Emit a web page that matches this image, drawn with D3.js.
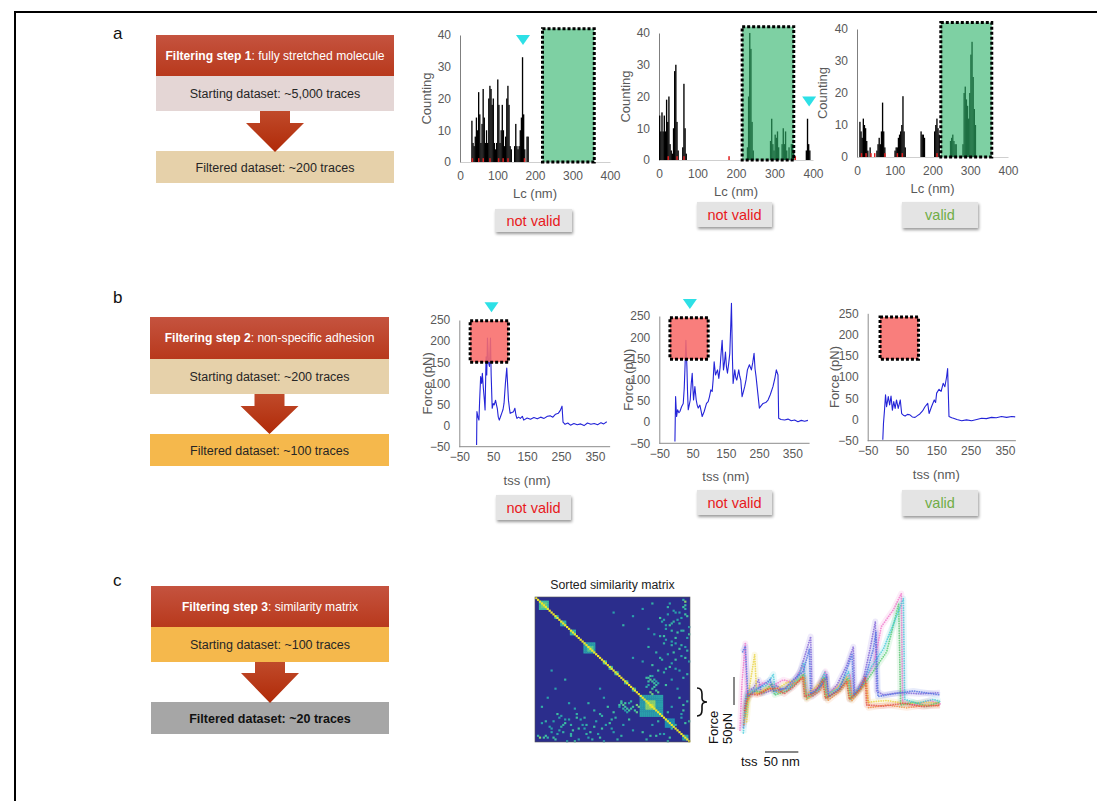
<!DOCTYPE html>
<html>
<head>
<meta charset="utf-8">
<script src="https://cdn.jsdelivr.net/npm/d3@7"></script>
<style>
  body { margin: 0; background: #fff; }
  svg text { font-family: "Liberation Sans", Arial, sans-serif; }
</style>
</head>
<body>
<div id="vis"></div>
<script>
const width = 1097;
const height = 801;

// ---------- flowchart texts ----------
const panelLetters = ['a', 'b', 'c'];
const stepTitles = ['Filtering step 1', 'Filtering step 2', 'Filtering step 3'];
const stepTopics = [': fully stretched molecule', ': non-specific adhesion', ': similarity matrix'];
const startLabels = ['Starting dataset: ~5,000 traces', 'Starting dataset: ~200 traces', 'Starting dataset: ~100 traces'];
const filteredLabels = ['Filtered dataset: ~200 traces', 'Filtered dataset: ~100 traces', 'Filtered dataset: ~20 traces'];
const startColors = ['#e4d6d5', '#e6d1aa', '#f5b84c'];
const filteredColors = ['#e6d1aa', '#f5b84c', '#a6a6a6'];
const verdicts = ['not valid', 'not valid', 'valid'];

// ---------- panel a: contour length histograms [Lc nm, count] ----------
const lcTicks = [0, 100, 200, 300, 400];
const countTicks = [0, 10, 20, 30, 40];
const binWidth = 3;
const hist1 = [[30,13],[33,6],[36,5],[39,8],[42,14],[45,10],[48,22],[51,15],[54,6],[57,12],[60,23],[63,14],[66,6],[69,10],[72,6],[75,20],[78,24],[81,23],[84,18],[87,20],[90,6],[93,4],[96,6],[99,26],[102,18],[105,6],[108,10],[111,18],[114,10],[117,5],[120,8],[123,20],[126,24],[129,18],[132,5],[135,4],[144,5],[147,12],[150,5],[153,4],[156,5],[159,10],[162,14],[165,33],[168,15],[171,4],[177,8],[180,8]];
const hist2 = [[0,14],[3,9],[6,15],[9,9],[12,14],[15,9],[18,19],[21,12],[24,20],[27,5],[30,3],[33,2],[36,10],[39,28],[42,30],[45,12],[48,3],[60,4],[63,24],[66,10],[69,2],[228,4],[231,20],[234,40],[237,35],[240,12],[243,3],[288,6],[291,13],[294,5],[297,3],[300,8],[303,7],[306,9],[309,4],[318,5],[321,10],[324,5],[327,9],[330,3],[336,4],[342,5],[345,5],[348,3],[381,3],[384,13],[387,5],[390,3]];
const hist3 = [[6,11],[9,8],[12,6],[15,12],[18,10],[21,9],[24,5],[27,2],[33,3],[51,2],[54,4],[57,6],[60,4],[63,8],[66,17],[69,8],[72,3],[99,2],[102,3],[105,3],[108,6],[111,7],[114,8],[117,10],[120,19],[123,8],[126,3],[168,8],[171,7],[174,7],[177,6],[204,8],[207,10],[210,12],[213,9],[216,7],[246,5],[249,6],[252,7],[255,5],[258,4],[261,4],[279,4],[282,20],[285,22],[288,18],[291,16],[294,12],[297,20],[300,32],[303,36],[306,25],[309,15],[312,10]];
const histRed = [[31,48,60,78,101,113,126,170], [22,45,63,180,352], [10,22,35,45,72,105,118,210]];
// accepted Lc window [from, to] and height of the window (counts)
const lcWindow = [[220, 358], [216, 350], [222, 357]];
const lcWindowTop = 42;
// cyan markers [Lc, count] (null = none)
const histMarkers = [[168, 40], [390, 20], null];

// ---------- panel b: force curves [tss nm, force pN] ----------
const tssTicks = [-50, 50, 150, 250, 350];
const forceTicks = [-50, 0, 50, 100, 150, 200, 250];
const curve1 = [[1,-46],[2,33],[5,20],[8,13],[10,60],[13,116],[16,100],[18,124],[21,88],[24,60],[26,37],[29,163],[31,120],[33,207],[36,150],[39,140],[42,207],[44,120],[47,41],[50,52],[53,49],[57,60],[60,48],[62,41],[65,20],[68,13],[72,22],[75,29],[79,38],[82,53],[86,100],[90,136],[93,90],[95,60],[98,40],[100,29],[105,31],[110,33],[114,41],[117,25],[120,17],[125,20],[130,17],[136,22],[140,13],[150,18],[160,15],[170,19],[180,16],[190,20],[200,17],[210,22],[218,23],[226,20],[234,27],[242,29],[248,36],[253,46],[256,8],[262,3],[270,6],[278,1],[288,5],[298,2],[308,4],[318,0],[328,6],[338,3],[348,5],[358,2],[368,7],[376,4],[385,9]];
const curve2 = [[-3,-46],[-1,60],[2,13],[5,29],[9,22],[12,25],[17,36],[22,44],[25,80],[27,123],[30,193],[33,131],[35,70],[37,29],[40,40],[43,52],[46,90],[49,115],[51,80],[53,52],[57,84],[61,52],[64,40],[67,33],[72,40],[76,25],[79,13],[85,25],[92,44],[97,48],[101,60],[105,76],[109,72],[112,100],[115,142],[119,111],[125,123],[129,103],[133,130],[135,154],[139,193],[143,123],[146,140],[149,165],[152,130],[155,115],[159,140],[162,162],[165,230],[167,280],[170,150],[172,91],[177,123],[180,105],[183,99],[189,123],[192,108],[195,99],[199,60],[203,72],[207,84],[211,100],[215,123],[221,135],[227,123],[231,140],[235,162],[238,125],[241,107],[246,70],[251,33],[256,38],[262,44],[270,46],[277,52],[284,65],[292,84],[298,105],[302,123],[307,111],[309,9],[316,6],[327,5],[337,7],[347,3],[357,5],[367,1],[377,4],[387,2],[397,4]];
const curve3 = [[-6,-48],[-4,-9],[-1,22],[2,58],[5,30],[8,44],[10,54],[14,34],[18,55],[22,22],[26,42],[30,26],[34,46],[39,26],[45,46],[49,14],[54,10],[59,8],[66,12],[73,11],[80,6],[88,5],[95,9],[102,13],[110,20],[117,30],[125,38],[129,14],[136,30],[144,46],[148,40],[151,62],[158,71],[164,66],[170,85],[175,77],[180,100],[183,120],[187,7],[195,4],[200,3],[210,0],[224,-3],[238,-1],[253,-3],[268,0],[282,3],[296,2],[311,5],[325,4],[340,7],[355,5],[370,7],[380,6]];
// adhesion zone [tss from, tss to, force from, force to]
const adhesionZone = [[-18, 95, 150, 248], [-18, 97, 148, 246], [-14, 98, 142, 241]];
const curveMarkers = [[45, 292], [42, 290], null];

// ---------- panel c: sorted similarity matrix (80 traces) ----------
const matrixN = 80;
// blocks along the diagonal [from, to, similarity]
const matrixBlocks = [[2,6,0.6],[3,5,0.7],[10,11,0.55],[13,15,0.55],[18,20,0.55],[25,30,0.5],[27,29,0.65],[35,36,0.6],[38,39,0.6],[41,42,0.6],[46,47,0.6],[50,51,0.55],[54,65,0.5],[57,61,0.75],[59,60,0.85],[67,71,0.45],[76,78,0.5]];
// scattered off-diagonal pairs [i, j, similarity] (symmetric)
const matrixPairs = [[1,76,0.55],[4,77,0.6],[6,77,0.55],[9,77,0.6],[11,75,0.5],[13,71,0.55],[15,69,0.6],[17,67,0.5],[18,76,0.55],[22,72,0.6],[24,70,0.5],[25,66,0.55],[28,74,0.6],[31,68,0.5],[33,64,0.55],[37,60,0.6],[39,72,0.5],[41,66,0.55],[43,59,0.6],[46,62,0.5],[44,57,0.6],[44,76,0.55],[59,76,0.6],[64,75,0.5],[70,72,0.55],[13,65,0.5],[21,64,0.55],[33,77,0.6],[22,78,0.5],[18,70,0.55],[7,71,0.5],[5,76,0.6],[14,70,0.55],[15,67,0.5],[21,66,0.6],[30,62,0.55],[25,72,0.5],[34,72,0.6],[39,67,0.55],[43,60,0.5],[11,64,0.6],[8,74,0.5],[18,75,0.55],[2,77,0.75],[44,58,0.6],[46,58,0.6],[48,58,0.5],[50,60,0.6],[45,61,0.55],[47,61,0.6],[49,61,0.6],[51,62,0.6],[52,59,0.7],[53,60,0.7],[47,63,0.5],[3,69,0.5],[26,75,0.55],[36,70,0.5],[40,63,0.6],[12,73,0.5],[29,78,0.55],[9,68,0.5],[20,79,0.6],
  [5,68,0.55],[8,72,0.5],[10,78,0.6],[12,66,0.5],[14,74,0.55],[16,79,0.5],[19,73,0.6],[23,67,0.5],[26,70,0.55],[27,77,0.5],[30,71,0.6],[32,75,0.5],[34,65,0.55],[35,79,0.5],[38,69,0.6],[40,74,0.5],[42,78,0.55],[45,70,0.5],[48,67,0.6],[50,73,0.5],[20,61,0.5],[27,58,0.55],[35,55,0.5],[10,50,0.5],[15,45,0.55],[8,40,0.5],[33,50,0.5],[3,60,0.55],[6,55,0.5],[17,58,0.5],[55,74,0.6],[57,78,0.55],[60,70,0.5],[62,76,0.6],[63,68,0.55],[66,75,0.5],[68,79,0.55],[69,77,0.6],[45,59,0.65],[46,60,0.6],[48,62,0.6],[52,63,0.65],[49,57,0.55]];

// ---------- panel c: overlaid traces of the selected cluster [tss nm, force pN] ----------
const clusterColors = ['#7b5cd6', '#f06fc8', '#e8d23a', '#4cc86a', '#3cc8d8', '#f08a3a', '#4a6ee0', '#e04848'];
const clusterTraces = [
  [[5,-40],[8,10],[12,25],[20,30],[28,45],[32,20],[45,25],[55,35],[62,28],[75,30],[90,60],[106,122],[108,15],[118,25],[130,55],[132,18],[145,35],[160,70],[170,104],[172,20],[185,45],[195,100],[203,149],[205,25],[215,18],[240,22],[270,20],[300,22]],
  [[0,-45],[3,40],[8,110],[10,20],[25,30],[35,40],[50,35],[65,45],[80,40],[95,70],[100,20],[115,30],[128,60],[130,20],[150,35],[165,55],[168,15],[185,40],[200,70],[207,110],[212,140],[230,170],[242,199],[244,5],[260,0],[285,8],[300,2]],
  [[10,-30],[14,30],[22,90],[25,20],[40,30],[55,28],[70,40],[88,45],[95,50],[98,18],[112,30],[125,45],[128,15],[145,30],[160,50],[164,12],[180,30],[188,45],[192,5],[220,8],[250,2],[280,5],[300,3]],
  [[8,-20],[12,15],[20,25],[35,22],[48,38],[52,18],[70,25],[85,40],[95,55],[100,12],[118,28],[126,50],[130,12],[150,28],[162,48],[166,10],[182,30],[200,60],[220,95],[238,180],[241,0],[260,5],[280,-2],[300,5]],
  [[5,-50],[10,20],[25,30],[40,35],[50,55],[53,22],[70,30],[85,45],[96,75],[99,18],[115,25],[127,58],[131,20],[148,30],[163,60],[167,15],[182,35],[198,70],[215,100],[232,150],[245,190],[247,10],[265,3],[290,10],[300,6]],
  [[6,-35],[10,5],[18,22],[30,20],[45,30],[60,22],[72,35],[88,42],[96,50],[100,10],[120,25],[129,48],[132,8],[150,25],[165,45],[168,8],[183,30],[190,40],[193,-5],[220,0],[250,-5],[280,0],[300,-2]],
  [[4,95],[8,105],[12,15],[28,30],[45,45],[50,25],[68,30],[80,45],[95,60],[104,100],[106,20],[122,35],[130,50],[133,15],[150,30],[168,90],[171,18],[186,40],[200,100],[204,130],[207,15],[230,20],[260,25],[300,18]],
  [[7,-10],[12,20],[26,18],[40,28],[56,30],[66,20],[80,32],[94,50],[97,15],[112,22],[124,45],[128,12],[146,24],[160,42],[164,10],[180,28],[188,50],[190,0],[215,-2],[245,3],[275,-3],[300,0]]
];

// ================= drawing =================
const grayText = '#595959';
const font = '"Liberation Sans", Arial, sans-serif';

let vis = d3.select('#vis')
            .append('svg')
            .attr('width', width)
            .attr('height', height);

const defs = vis.append('defs');
const headGrad = defs.append('linearGradient').attr('id', 'headGrad').attr('x1', 0).attr('x2', 0).attr('y1', 0).attr('y2', 1);
headGrad.append('stop').attr('offset', '0%').attr('stop-color', '#c5533f');
headGrad.append('stop').attr('offset', '100%').attr('stop-color', '#b8391c');
const arrowGrad = defs.append('linearGradient').attr('id', 'arrowGrad').attr('x1', 0).attr('x2', 0).attr('y1', 0).attr('y2', 1);
arrowGrad.append('stop').attr('offset', '0%').attr('stop-color', '#c04a2a');
arrowGrad.append('stop').attr('offset', '100%').attr('stop-color', '#b02a08');
defs.append('filter').attr('id', 'shadow').attr('x', '-20%').attr('y', '-20%').attr('width', '140%').attr('height', '160%')
    .append('feDropShadow').attr('dx', 1).attr('dy', 2).attr('stdDeviation', 1.5)
    .attr('flood-color', '#000').attr('flood-opacity', 0.4);

// frame
vis.append('line').attr('x1', 15).attr('x2', width).attr('y1', 12).attr('y2', 12).attr('stroke', '#000').attr('stroke-width', 2);
vis.append('line').attr('x1', 15).attr('x2', 15).attr('y1', 11).attr('y2', height).attr('stroke', '#000').attr('stroke-width', 2);

// ---------- flowcharts ----------
const flowLayout = [
    {letterY: 39, x0: 156, x1: 394, head: [35, 76], start: [76, 111], arrow: [111, 123, 152], filt: [151, 183]},
    {letterY: 303, x0: 150, x1: 389, head: [317, 359], start: [359, 394], arrow: [394, 406, 434], filt: [434, 466]},
    {letterY: 586, x0: 151, x1: 389, head: [586, 627], start: [627, 662], arrow: [662, 673, 703], filt: [702, 734]}
];

flowLayout.forEach((L, i) => {
    const g = vis.append('g');
    const cx = (L.x0 + L.x1) / 2;
    g.append('text').attr('x', 113).attr('y', L.letterY).attr('font-size', 17).attr('fill', '#111').text(panelLetters[i]);

    g.append('rect').attr('x', L.x0).attr('y', L.head[0]).attr('width', L.x1 - L.x0).attr('height', L.head[1] - L.head[0]).attr('fill', 'url(#headGrad)');
    const t = g.append('text').attr('x', cx).attr('y', (L.head[0] + L.head[1]) / 2 + 4).attr('text-anchor', 'middle')
               .attr('font-size', 12.1).attr('fill', '#fff');
    t.append('tspan').attr('font-weight', 'bold').text(stepTitles[i]);
    t.append('tspan').text(stepTopics[i]);

    g.append('rect').attr('x', L.x0).attr('y', L.start[0]).attr('width', L.x1 - L.x0).attr('height', L.start[1] - L.start[0]).attr('fill', startColors[i]);
    g.append('text').attr('x', cx).attr('y', (L.start[0] + L.start[1]) / 2 + 4.5).attr('text-anchor', 'middle')
     .attr('font-size', 12.5).attr('fill', '#262626').text(startLabels[i]);

    g.append('rect').attr('x', L.x0).attr('y', L.filt[0]).attr('width', L.x1 - L.x0).attr('height', L.filt[1] - L.filt[0]).attr('fill', filteredColors[i]);
    g.append('text').attr('x', cx).attr('y', (L.filt[0] + L.filt[1]) / 2 + 4.5).attr('text-anchor', 'middle')
     .attr('font-size', 12.5).attr('fill', i === 2 ? '#111' : '#262626').attr('font-weight', i === 2 ? 'bold' : 'normal')
     .text(filteredLabels[i]);

    const [a0, a1, a2] = L.arrow;
    const sw = 15, hw = 29;
    g.append('path')
     .attr('d', `M${cx - sw},${a0} L${cx + sw},${a0} L${cx + sw},${a1} L${cx + hw},${a1} L${cx},${a2} L${cx - hw},${a1} L${cx - sw},${a1} Z`)
     .attr('fill', 'url(#arrowGrad)');
});

// button below each example
function verdictButton(b, label) {
    const g = vis.append('g');
    g.append('rect').attr('x', b.x).attr('y', b.y).attr('width', b.w).attr('height', b.h)
     .attr('fill', '#e4e4e4').attr('filter', 'url(#shadow)');
    g.append('text').attr('x', b.x + b.w / 2).attr('y', b.y + b.h / 2 + 5).attr('text-anchor', 'middle')
     .attr('font-size', 14.5).attr('fill', label === 'valid' ? '#70ad47' : '#e8191c').text(label);
}

function styleAxis(sel, domainColor) {
    sel.select('.domain').attr('stroke', domainColor).attr('stroke-width', 1);
    sel.selectAll('text').attr('fill', grayText).attr('font-size', 12).attr('font-family', font);
}

function cyanMarker(cx, cyTop) {
    vis.append('path').attr('d', `M${cx - 7},${cyTop} L${cx + 7},${cyTop} L${cx},${cyTop + 10} Z`).attr('fill', '#2de0e6');
}

// ---------- panel a ----------
const histLayout = [
    {x0: 460, x1: 610, y0: 162, y1: 35, yLabelX: 431, btn: {x: 495, y: 209, w: 77, h: 23}},
    {x0: 659, x1: 813, y0: 160, y1: 33, yLabelX: 630, btn: {x: 697, y: 202, w: 75, h: 25}},
    {x0: 857, x1: 1008, y0: 157, y1: 29, yLabelX: 827, btn: {x: 902, y: 202, w: 76, h: 26}}
];
const histData = [hist1, hist2, hist3];

histLayout.forEach((L, i) => {
    const x = d3.scaleLinear().domain([0, 400]).range([L.x0, L.x1]);
    const y = d3.scaleLinear().domain([0, 40]).range([L.y0, L.y1]);
    const g = vis.append('g');

    g.append('g').attr('transform', `translate(0,${L.y0})`)
     .call(d3.axisBottom(x).tickValues(lcTicks).tickSize(0).tickPadding(9))
     .call(s => styleAxis(s, '#cfcfcf'));
    g.append('g').attr('transform', `translate(${L.x0},0)`)
     .call(d3.axisLeft(y).tickValues(countTicks).tickSize(0).tickPadding(9))
     .call(s => styleAxis(s, '#7f7f7f'));

    g.append('g').selectAll('rect').data(histData[i]).enter().append('rect')
     .attr('x', d => x(d[0]))
     .attr('width', d => x(d[0] + binWidth) - x(d[0]) + 0.2)
     .attr('y', d => y(d[1]))
     .attr('height', d => y(0) - y(d[1]))
     .attr('fill', '#000');

    g.append('g').selectAll('rect').data(histRed[i]).enter().append('rect')
     .attr('x', d => x(d)).attr('width', 1.5).attr('y', y(1.2)).attr('height', y(0) - y(1.2))
     .attr('fill', '#e02020');

    const w = lcWindow[i];
    g.append('rect').attr('x', x(w[0])).attr('y', y(lcWindowTop)).attr('width', x(w[1]) - x(w[0])).attr('height', y(0) - y(lcWindowTop))
     .attr('fill', '#2fb36b').attr('fill-opacity', 0.62)
     .attr('stroke', '#000').attr('stroke-width', 3).attr('stroke-dasharray', '3,2');

    if (histMarkers[i]) cyanMarker(x(histMarkers[i][0]), y(histMarkers[i][1]));

    g.append('text').attr('x', (L.x0 + L.x1) / 2).attr('y', L.y0 + 36).attr('text-anchor', 'middle')
     .attr('font-size', 13).attr('fill', grayText).text('Lc (nm)');
    g.append('text').attr('transform', `translate(${L.yLabelX},${(L.y0 + L.y1) / 2}) rotate(-90)`).attr('text-anchor', 'middle')
     .attr('font-size', 13).attr('fill', grayText).text('Counting');

    verdictButton(L.btn, verdicts[i]);
});

// ---------- panel b ----------
const forceLayout = [
    {x0: 459.3, pxPer100: 33.9, xMax: 395, y0: 446.7, y1: 320, yLabelX: 432, btn: {x: 496, y: 495, w: 75, h: 25}},
    {x0: 659.3, pxPer100: 33.25, xMax: 402, y0: 443.3, y1: 316, yLabelX: 633, btn: {x: 697, y: 490, w: 75, h: 25}},
    {x0: 867.7, pxPer100: 34.3, xMax: 382, y0: 440.7, y1: 313.3, yLabelX: 839, btn: {x: 902, y: 490, w: 76, h: 26}}
];
const curveData = [curve1, curve2, curve3];

forceLayout.forEach((L, i) => {
    const x = d3.scaleLinear().domain([-50, 50]).range([L.x0, L.x0 + L.pxPer100]);
    const y = d3.scaleLinear().domain([-50, 250]).range([L.y0, L.y1]);
    const g = vis.append('g');

    g.append('line').attr('x1', x(-50)).attr('x2', x(L.xMax)).attr('y1', y(-50)).attr('y2', y(-50)).attr('stroke', '#8c8c8c');
    g.append('g').attr('transform', `translate(0,${L.y0})`)
     .call(d3.axisBottom(x).tickValues(tssTicks).tickSize(0).tickPadding(6))
     .call(s => { s.select('.domain').remove(); styleAxis(s, 'none'); });
    g.append('g').attr('transform', `translate(${L.x0},0)`)
     .call(d3.axisLeft(y).tickValues(forceTicks).tickSize(0).tickPadding(9))
     .call(s => styleAxis(s, '#8c8c8c'));

    g.append('path').datum(curveData[i])
     .attr('d', d3.line().x(d => x(d[0])).y(d => y(d[1])))
     .attr('fill', 'none').attr('stroke', '#2424d8').attr('stroke-width', 1.1).attr('stroke-linejoin', 'round');

    const z = adhesionZone[i];
    g.append('rect').attr('x', x(z[0])).attr('y', y(z[3])).attr('width', x(z[1]) - x(z[0])).attr('height', y(z[2]) - y(z[3]))
     .attr('fill', '#f86c6a').attr('fill-opacity', 0.88)
     .attr('stroke', '#000').attr('stroke-width', 3).attr('stroke-dasharray', '3,2');

    if (curveMarkers[i]) cyanMarker(x(curveMarkers[i][0]), y(curveMarkers[i][1]));

    g.append('text').attr('x', x(150)).attr('y', L.y0 + 38).attr('text-anchor', 'middle')
     .attr('font-size', 13).attr('fill', grayText).text('tss (nm)');
    g.append('text').attr('transform', `translate(${L.yLabelX},${(L.y0 + L.y1) / 2}) rotate(-90)`).attr('text-anchor', 'middle')
     .attr('font-size', 13).attr('fill', grayText).text('Force (pN)');

    verdictButton(L.btn, verdicts[i]);
});

// ---------- panel c: similarity matrix ----------
const mx = d3.scaleLinear().domain([0, matrixN]).range([535, 690]);
const my = d3.scaleLinear().domain([0, matrixN]).range([597, 742]);
const simColor = d3.scaleLinear().domain([0, 0.45, 0.6, 0.8, 1])
                   .range(['#2b2d8c', '#1f8fb0', '#3fbfa0', '#a6d65a', '#f2e826']);

const cells = [];
matrixBlocks.forEach(b => {
    for (let i = b[0]; i <= b[1]; i++) {
        for (let j = b[0]; j <= b[1]; j++) cells.push([i, j, b[2]]);
    }
});
matrixPairs.forEach(p => { cells.push([p[0], p[1], p[2]]); cells.push([p[1], p[0], p[2]]); });
d3.range(matrixN).forEach(i => cells.push([i, i, 1]));

const mg = vis.append('g');
mg.append('rect').attr('x', mx(0)).attr('y', my(0)).attr('width', mx(matrixN) - mx(0)).attr('height', my(matrixN) - my(0))
  .attr('fill', simColor(0));
mg.selectAll('rect.cell').data(cells).enter().append('rect').attr('class', 'cell')
  .attr('x', d => mx(d[1])).attr('y', d => my(d[0]))
  .attr('width', mx(1) - mx(0) + 0.3).attr('height', my(1) - my(0) + 0.3)
  .attr('fill', d => simColor(d[2]));
mg.append('rect').attr('x', mx(0)).attr('y', my(0)).attr('width', mx(matrixN) - mx(0)).attr('height', my(matrixN) - my(0))
  .attr('fill', 'none').attr('stroke', '#555').attr('stroke-width', 0.6);
mg.append('text').attr('x', (mx(0) + mx(matrixN)) / 2).attr('y', 589).attr('text-anchor', 'middle')
  .attr('font-size', 12.3).attr('fill', '#222').text('Sorted similarity matrix');

// brace marking the selected cluster
mg.append('path')
  .attr('d', 'M697,688 Q702,688 702,694 L702,698 Q702,702 707,702 Q702,702 702,706 L702,710 Q702,716 697,716')
  .attr('fill', 'none').attr('stroke', '#111').attr('stroke-width', 1.6);

// ---------- panel c: overlaid traces ----------
const tx = d3.scaleLinear().domain([0, 300]).range([740, 940]);
const ty = d3.scaleLinear().domain([0, 50]).range([705, 677]);
const tg = vis.append('g');
const traceLine = d3.line().x(d => tx(d[0])).y(d => ty(d[1]));
// soft halo gives the scattered-cloud look, dots on top
clusterTraces.forEach((tr, i) => {
    tg.append('path').datum(tr).attr('d', traceLine)
      .attr('fill', 'none').attr('stroke', clusterColors[i]).attr('stroke-width', 6)
      .attr('stroke-opacity', 0.13).attr('stroke-linejoin', 'round');
});
clusterTraces.forEach((tr, i) => {
    tg.append('path').datum(tr).attr('d', traceLine)
      .attr('fill', 'none').attr('stroke', clusterColors[i]).attr('stroke-width', 1.8)
      .attr('stroke-opacity', 0.75).attr('stroke-dasharray', '0.01,2.4').attr('stroke-linecap', 'round');
});
// scale bars
tg.append('line').attr('x1', 734).attr('x2', 734).attr('y1', ty(0)).attr('y2', ty(50)).attr('stroke', '#111').attr('stroke-width', 1);
tg.append('line').attr('x1', tx(37.5)).attr('x2', tx(87.5)).attr('y1', 752).attr('y2', 752).attr('stroke', '#111').attr('stroke-width', 1);
tg.append('text').attr('transform', 'translate(718,744) rotate(-90)').attr('font-size', 13).attr('fill', '#111').text('Force');
tg.append('text').attr('transform', 'translate(732,744) rotate(-90)').attr('font-size', 13).attr('fill', '#111').text('50pN');
tg.append('text').attr('x', 741).attr('y', 766).attr('font-size', 13).attr('fill', '#111').text('tss');
tg.append('text').attr('x', (tx(37.5) + tx(87.5)) / 2).attr('y', 766).attr('text-anchor', 'middle')
  .attr('font-size', 13).attr('fill', '#111').text('50 nm');
</script>
</body>
</html>
